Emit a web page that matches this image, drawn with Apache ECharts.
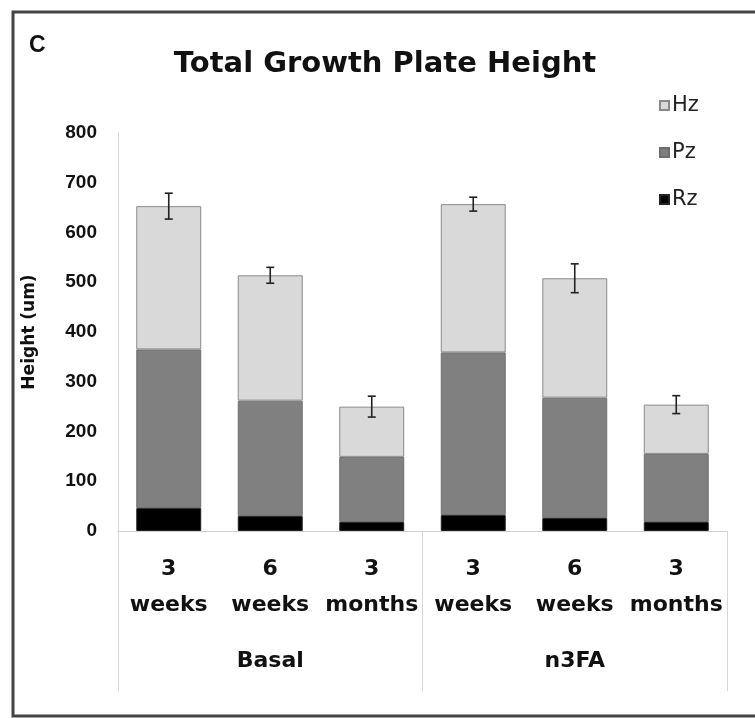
<!DOCTYPE html>
<html>
<head>
<meta charset="utf-8">
<script src="https://cdn.jsdelivr.net/npm/echarts@6/dist/echarts.min.js"></script>
<style>
html,body{margin:0;padding:0;background:#fff;}
#chart{width:755px;height:718px;}
</style>
</head>
<body>
<div id="chart"></div>
<script>
const categories = ['3\nweeks', '6\nweeks', '3\nmonths', '3\nweeks', '6\nweeks', '3\nmonths'];
const groups = ['Basal', 'n3FA'];
const rzValues = [46, 30, 18, 32, 26, 18];
const pzValues = [319, 232, 131, 327, 242, 137];
const hzValues = [288, 252, 101, 298, 240, 99];
const errValues = [26, 16, 21, 14, 29, 18];
const yTicks = [0, 100, 200, 300, 400, 500, 600, 700, 800];

const totals = rzValues.map((v, i) => v + pzValues[i] + hzValues[i]);
const errData = totals.map((t, i) => [i, t, errValues[i]]);

const font = '"Liberation Sans", Arial, sans-serif';
const wide = '"DejaVu Sans", sans-serif';
const chart = echarts.init(document.getElementById('chart'));

chart.setOption({
  backgroundColor: '#fff',
  animation: false,
  graphic: [
    { type: 'rect', shape: { x: 13, y: 12, width: 800, height: 704 }, style: { fill: 'none', stroke: '#444', lineWidth: 3 } },
    { type: 'text', left: 29, top: 34, style: { text: 'C', font: 'bold 23px ' + font, fill: '#111' } }
  ],
  title: {
    text: 'Total Growth Plate Height',
    left: 380, top: 45, textAlign: 'center',
    textStyle: { fontFamily: wide, fontWeight: 'bold', fontSize: 29, color: '#111' }
  },
  legend: {
    orient: 'vertical', left: 654, top: 90, itemGap: 26,
    itemWidth: 9, itemHeight: 9, icon: 'rect',
    textStyle: { fontFamily: wide, fontSize: 21, color: '#222', padding: [0, 0, 0, -2] },
    data: ['Hz', 'Pz', 'Rz']
  },
  grid: { left: 118, right: 28, top: 133, bottom: 187, containLabel: false },
  xAxis: [
    {
      type: 'category', data: categories, position: 'bottom',
      axisLine: { lineStyle: { color: '#cfcfcf', width: 1 } },
      axisTick: { show: false },
      axisLabel: { margin: 20, fontFamily: wide, fontWeight: 'bold', fontSize: 22, lineHeight: 36, color: '#111', interval: 0 }
    },
    {
      type: 'category', data: groups, position: 'bottom',
      axisLine: { show: false },
      axisTick: { show: true, length: 160, lineStyle: { color: '#d6d6d6', width: 1 } },
      axisLabel: { margin: 119, fontFamily: wide, fontWeight: 'bold', fontSize: 22, color: '#111', interval: 0 }
    }
  ],
  yAxis: {
    type: 'value', min: yTicks[0], max: yTicks[yTicks.length - 1], interval: 100,
    name: 'Height (um)', nameLocation: 'middle', nameGap: 80, nameRotate: 90,
    nameTextStyle: { fontFamily: wide, fontWeight: 'bold', fontSize: 17, color: '#111' },
    axisLine: { show: true, lineStyle: { color: '#d6d6d6' } },
    axisTick: { show: false },
    splitLine: { show: false },
    axisLabel: { margin: 21, fontFamily: font, fontWeight: 'bold', fontSize: 19, color: '#111' }
  },
  series: [
    { name: 'Rz', type: 'bar', stack: 'h', data: rzValues, barCategoryGap: '36%',
      itemStyle: { color: '#000', borderColor: '#222', borderWidth: 1 } },
    { name: 'Pz', type: 'bar', stack: 'h', data: pzValues,
      itemStyle: { color: '#808080', borderColor: '#6e6e6e', borderWidth: 1 } },
    { name: 'Hz', type: 'bar', stack: 'h', data: hzValues,
      itemStyle: { color: '#d9d9d9', borderColor: '#8a8a8a', borderWidth: 1 } },
    {
      name: 'err', type: 'custom', data: errData, z: 10,
      renderItem: function (params, api) {
        const x = api.value(0), y = api.value(1), e = api.value(2);
        const hi = api.coord([x, y + e]);
        const lo = api.coord([x, y - e]);
        const cw = 4;
        const st = { stroke: '#222', lineWidth: 1.6 };
        return {
          type: 'group',
          children: [
            { type: 'line', shape: { x1: hi[0], y1: hi[1], x2: lo[0], y2: lo[1] }, style: st },
            { type: 'line', shape: { x1: hi[0] - cw, y1: hi[1], x2: hi[0] + cw, y2: hi[1] }, style: st },
            { type: 'line', shape: { x1: lo[0] - cw, y1: lo[1], x2: lo[0] + cw, y2: lo[1] }, style: st }
          ]
        };
      }
    }
  ]
});
</script>
</body>
</html>
